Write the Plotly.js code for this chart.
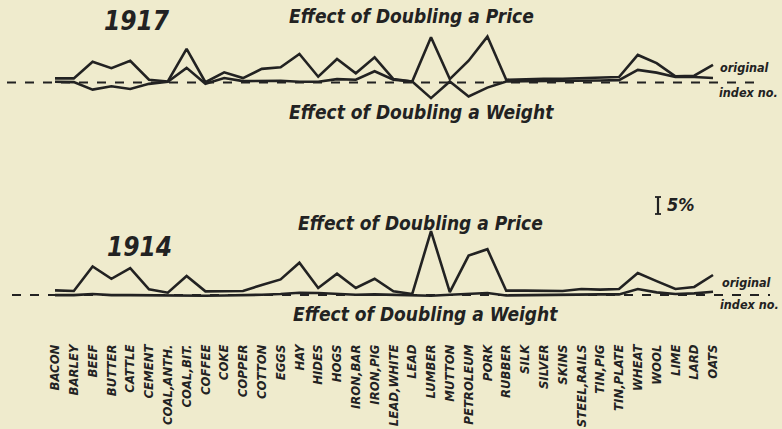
<!DOCTYPE html>
<html>
<head>
<meta charset="utf-8">
<script src="https://cdn.plot.ly/plotly-3.0.1.min.js"></script>
<style>
html,body{margin:0;padding:0;background:#efebcd;}
#chart{width:782px;height:429px;}
</style>
</head>
<body>
<div id="chart"></div>
<script>
// Commodities (x-axis tick labels)
const commodities = ["BACON","BARLEY","BEEF","BUTTER","CATTLE","CEMENT","COAL,ANTH.","COAL,BIT.","COFFEE","COKE","COPPER","COTTON","EGGS","HAY","HIDES","HOGS","IRON,BAR","IRON,PIG","LEAD,WHITE","LEAD","LUMBER","MUTTON","PETROLEUM","PORK","RUBBER","SILK","SILVER","SKINS","STEEL,RAILS","TIN,PIG","TIN,PLATE","WHEAT","WOOL","LIME","LARD","OATS"];

// Deviation from original index number, per cent (1917)
const price1917  = [1.2,1.2,6.1,4.2,6.4,0.8,0.3,9.9,0.1,3.0,1.3,4.0,4.5,8.4,1.7,6.9,2.7,7.4,1.0,0.3,13.3,1.0,6.4,13.5,0.8,1.0,1.1,1.1,1.3,1.3,1.6,8.1,5.7,1.8,2.0,5.2];
const weight1917 = [0.2,0.1,-2.1,-1.1,-1.9,-0.4,0.2,4.3,-0.4,1.3,0.4,0.5,0.5,0.2,0.2,1.0,0.8,3.3,0.8,0.3,-4.6,0.3,-4.1,-1.5,0.3,0.4,0.4,0.4,0.6,0.6,0.7,3.7,2.9,1.6,1.6,1.3];

// Deviation from original index number, per cent (1914)
const price1914  = [1.4,1.2,8.4,4.8,7.9,1.7,0.7,5.6,1.1,1.2,1.2,3.0,4.6,9.5,2.1,6.3,2.1,4.8,1.1,0.3,18.8,0.9,11.6,13.5,1.3,1.3,1.3,1.2,1.8,1.6,1.8,6.5,4.1,1.8,2.4,5.9];
const weight1914 = [0,0,0.3,0,0,-0.1,-0.1,-0.2,-0.2,-0.1,-0.1,0.1,0.3,0.7,0.6,0.3,0.1,0.2,0,-0.1,-0.2,0.1,0.3,0.6,-0.1,0,0,0.2,0.3,0.2,0.2,1.8,0.8,0.3,0.5,1.0];

const W = 782, H = 429;
const ink = "#222";
const px = x => x / W;
const py = y => 1 - y / H;

const lineStyle = {color: ink, width: 2.6};
const traces = [
  {x: commodities, y: price1917, xaxis: "x", yaxis: "y2", mode: "lines", line: lineStyle, name: "Price 1917"},
  {x: commodities, y: weight1917, xaxis: "x", yaxis: "y2", mode: "lines", line: lineStyle, name: "Weight 1917"},
  {x: commodities, y: price1914, xaxis: "x", yaxis: "y", mode: "lines", line: lineStyle, name: "Price 1914"},
  {x: commodities, y: weight1914, xaxis: "x", yaxis: "y", mode: "lines", line: lineStyle, name: "Weight 1914"}
];

const hand = "'DejaVu Sans Condensed', 'Liberation Sans', sans-serif";
function label(text, x, y, size) {
  return {
    text: text, xref: "paper", yref: "paper", x: px(x), y: py(y),
    xanchor: "center", yanchor: "middle", showarrow: false,
    font: {family: hand, size: size, color: ink, weight: "bold", style: "italic"}
  };
}

const layout = {
  width: W, height: H,
  margin: {l: 0, r: 0, t: 0, b: 0},
  paper_bgcolor: "#efebcd",
  plot_bgcolor: "rgba(0,0,0,0)",
  showlegend: false,
  xaxis: {
    type: "category", range: [-2.926, 38.67], anchor: "y",
    showgrid: false, zeroline: false, showline: false, ticks: "",
    tickangle: -90,
    tickfont: {family: hand, size: 13, color: ink, weight: "bold", style: "italic"}
  },
  yaxis: {
    domain: [py(341), py(215)], range: [-13.5, 23.55],
    showgrid: false, zeroline: false, showticklabels: false, ticks: ""
  },
  yaxis2: {
    domain: [py(105), py(25)], range: [-6.62, 16.91],
    showgrid: false, zeroline: false, showticklabels: false, ticks: ""
  },
  shapes: [
    {type: "line", xref: "paper", yref: "y2", x0: px(7), x1: px(757), y0: 0, y1: 0,
     line: {color: ink, width: 2, dash: "dash"}},
    {type: "line", xref: "paper", yref: "y", x0: px(12), x1: px(770), y0: 0, y1: 0,
     line: {color: ink, width: 2, dash: "dash"}},
    // 5% scale bar
    {type: "line", xref: "paper", yref: "paper", x0: px(658), x1: px(658), y0: py(197), y1: py(214),
     line: {color: ink, width: 2.2}},
    {type: "line", xref: "paper", yref: "paper", x0: px(655), x1: px(661), y0: py(197), y1: py(197),
     line: {color: ink, width: 1.8}},
    {type: "line", xref: "paper", yref: "paper", x0: px(655), x1: px(661), y0: py(214), y1: py(214),
     line: {color: ink, width: 1.8}}
  ],
  annotations: [
    label("1917", 137, 21, 26),
    label("Effect of Doubling a Price", 412, 16, 19),
    label("Effect of Doubling a Weight", 422, 112, 19),
    label("original", 744, 67, 12.5),
    label("index no.", 748, 92, 12.5),
    label("5%", 681, 205, 18),
    label("1914", 139, 247, 26),
    label("Effect of Doubling a Price", 420, 223, 19),
    label("Effect of Doubling a Weight", 425, 314, 19),
    label("original", 746, 282, 12.5),
    label("index no.", 749, 304, 12.5)
  ]
};

Plotly.newPlot("chart", traces, layout, {staticPlot: true, displayModeBar: false});
</script>
</body>
</html>
